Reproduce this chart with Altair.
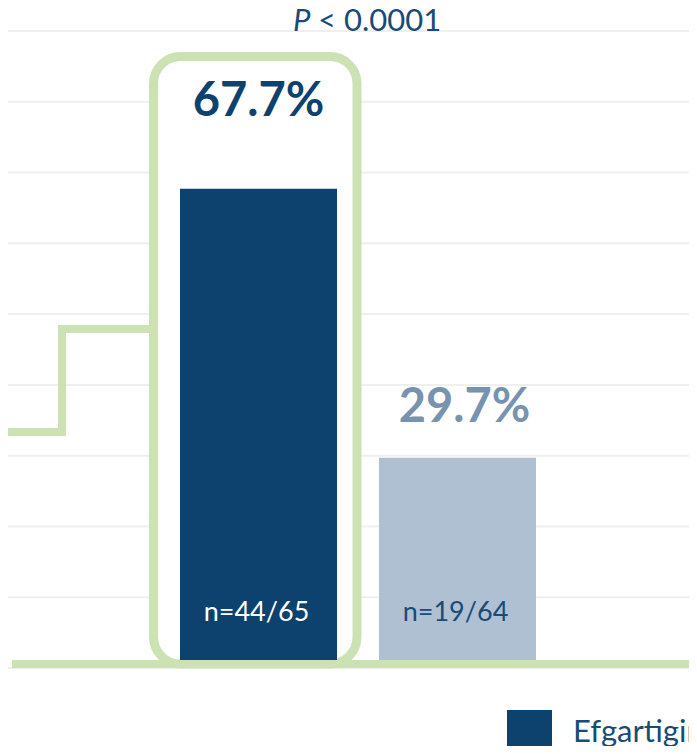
import altair as alt
import pandas as pd

# ---- data ----
categories = ["Efgartigimod", "Placebo"]
values = [67.7, 29.7]
value_labels = ["67.7%", "29.7%"]
n_labels = ["n=44/65", "n=19/64"]
grid_ticks = [0, 10, 20, 30, 40, 50, 60, 70, 80, 90]
p_symbol = "P"
p_text = "< 0.0001"

# ---- styles ----
NAVY = "#0d416e"
LIGHT = "#afc0d2"
LABEL2 = "#7893b0"
GREEN = "#cce1b4"
GRID = "#efefef"
TEXTNAVY = "#1a4a78"
FONT = "Lato"
W, H = 681, 738

df = pd.DataFrame({"category": categories, "value": values,
                   "label": value_labels, "n": n_labels})
ticks_df = pd.DataFrame({"tick": grid_ticks})
one = pd.DataFrame({"k": [0]})

xscale = alt.Scale(domain=categories, range=[172, 528], paddingInner=0.211, paddingOuter=0)
yscale = alt.Scale(domain=[0, 90], range=[660, 23])

base = alt.Chart(df)

grid = alt.Chart(ticks_df).mark_rule(color=GRID, strokeWidth=2).encode(
    y=alt.Y("tick:Q", scale=yscale, axis=None),
    x=alt.value(0), x2=alt.value(W))

bars = base.mark_bar().encode(
    x=alt.X("category:N", scale=xscale, axis=None),
    y=alt.Y("value:Q", scale=yscale, axis=None),
    color=alt.Color("category:N",
                    scale=alt.Scale(domain=categories, range=[NAVY, LIGHT]),
                    legend=alt.Legend(orient="none", legendX=499, legendY=702,
                                      direction="horizontal", title=None,
                                      symbolType="square", symbolSize=2025,
                                      symbolStrokeWidth=0, labelFont=FONT,
                                      labelFontSize=31, labelColor=TEXTNAVY,
                                      labelOffset=21, labelLimit=400, padding=0,
                                      columnPadding=20)),
)

# decorative shapes
circle = alt.Chart(one).mark_point(filled=True, shape="circle", opacity=1,
                                    color=GREEN, size=101800).encode(
    x=alt.value(-177), y=alt.value(510))

step1 = alt.Chart(one).mark_rule(color=GREEN, strokeWidth=8, strokeCap="square").encode(
    x=alt.value(-10), x2=alt.value(54), y=alt.value(424))
step2 = alt.Chart(one).mark_rule(color=GREEN, strokeWidth=8, strokeCap="square").encode(
    x=alt.value(54), y=alt.value(424), y2=alt.value(321))
step3 = alt.Chart(one).mark_rule(color=GREEN, strokeWidth=8, strokeCap="square").encode(
    x=alt.value(54), x2=alt.value(145), y=alt.value(321))

box = alt.Chart(one).mark_rect(fill="white", stroke=GREEN, strokeWidth=9,
                               cornerRadius=27).encode(
    x=alt.value(145.5), x2=alt.value(349), y=alt.value(48.5), y2=alt.value(656))

baseline = alt.Chart(one).mark_rule(color=GREEN, strokeWidth=8).encode(
    x=alt.value(4), x2=alt.value(W), y=alt.value(656))

lab1 = base.transform_filter(alt.datum.category == categories[0]).mark_text(
    font=FONT, fontSize=47, fontWeight="bold", color=NAVY, baseline="alphabetic"
).encode(x="category:N", y=alt.value(108), text="label:N")

lab2 = base.transform_filter(alt.datum.category == categories[1]).mark_text(
    font=FONT, fontSize=47, fontWeight="bold", color=LABEL2, baseline="alphabetic",
    dy=-36, dx=7
).encode(x="category:N", y="value:Q", text="label:N")

nlab = base.mark_text(font=FONT, fontSize=27, baseline="alphabetic", dx=-2).encode(
    x="category:N", y=alt.value(613), text="n:N",
    color=alt.condition("datum.category == '%s'" % categories[0],
                        alt.value("white"), alt.value(TEXTNAVY)))

p1 = alt.Chart(one).mark_text(text=p_symbol, font=FONT, fontStyle="italic", fontSize=31,
                              color=TEXTNAVY, align="left", baseline="alphabetic").encode(
    x=alt.value(285), y=alt.value(23))
p2 = alt.Chart(one).mark_text(text=p_text, font=FONT, fontSize=31,
                              color=TEXTNAVY, align="left", baseline="alphabetic").encode(
    x=alt.value(310), y=alt.value(23))

chart = alt.layer(grid, circle, step1, step2, step3, box, bars, baseline,
                  lab1, lab2, nlab, p1, p2).properties(
    width=W, height=H, autosize="none", padding=0
).configure_view(strokeWidth=0)

chart.save("out.html", embed_options={"renderer": "svg", "actions": False})
